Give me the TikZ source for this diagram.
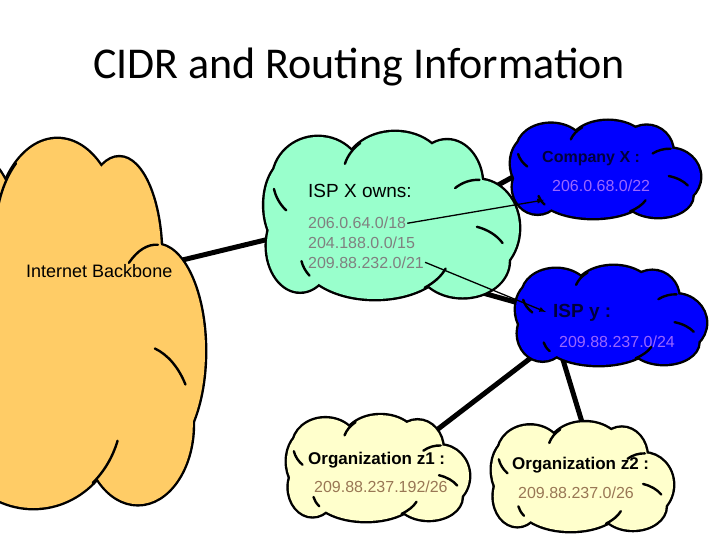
\documentclass[tikz,border=0pt]{standalone}
\usepackage{fontspec}
\setmainfont{Liberation Sans}
\newfontfamily\titlefont{Carlito}
\tikzset{>=latex}

\definecolor{backbone}{RGB}{255,204,102}
\definecolor{ispgreen}{RGB}{153,255,204}
\definecolor{netblue}{RGB}{0,0,255}
\definecolor{orgyellow}{RGB}{255,255,204}
\definecolor{numgray}{RGB}{128,128,128}
\definecolor{numviolet}{RGB}{153,102,255}
\definecolor{numbrown}{RGB}{153,119,85}
\definecolor{darknavy}{RGB}{0,0,60}

\tikzset{
  cloudline/.style={line width=2.4pt,line cap=round},
  link/.style={line width=5pt},
  pointer/.style={->,line width=1.3pt},
  cloudname/.style={anchor=base west,inner sep=1pt,font=\fontsize{18}{21}\selectfont},
  cloudnum/.style={anchor=base west,inner sep=1pt,font=\fontsize{16}{19}\selectfont},
}

% bumps of one cloud in a 100x100 box (y down): cx/cy/rx/ry
\def\cloudbumps{21.5/30.8/17.6/25, 51.6/27.9/20.3/25, 71.9/33.7/13.7/26,
  84/58.7/16/28, 78/78/18/21, 43.75/74.4/29/25.6, 14.5/69/13/26.7,
  10.5/45.3/10/26, 50/55/35/30}

% x0, y0, width, height, fill
\newcommand{\pptcloud}[5]{%
  \begin{scope}[shift={(#1,#2)},xscale=#3/100,yscale=#4/100]
    \foreach \cx/\cy/\rx/\ry in \cloudbumps
      \draw[line width=4.8pt,fill=#5] (\cx,\cy) ellipse[x radius=\rx,y radius=\ry];
    \foreach \cx/\cy/\rx/\ry in \cloudbumps
      \fill[#5] (\cx,\cy) ellipse[x radius=\rx,y radius=\ry];
    % inner strokes
    \draw[cloudline] (21.5,30.8) ++(135:17.6 and 25) arc[start angle=135,end angle=168,x radius=17.6,y radius=25];
    \draw[cloudline] (51.6,27.9) ++(195:20.3 and 25) arc[start angle=195,end angle=228,x radius=20.3,y radius=25];
    \draw[cloudline] (84,58.7) ++(236:16 and 28) arc[start angle=236,end angle=272,x radius=16,y radius=28];
    \draw[cloudline] (78,78) ++(-72:18 and 21) arc[start angle=-72,end angle=-30,x radius=18,y radius=21];
    \draw[cloudline] (43.75,74.4) ++(18:29 and 25.6) arc[start angle=18,end angle=48,x radius=29,y radius=25.6];
    \draw[cloudline] (43.75,74.4) ++(152:29 and 25.6) arc[start angle=152,end angle=172,x radius=29,y radius=25.6];
  \end{scope}}

\begin{document}
\begin{tikzpicture}[x=1pt,y=-1pt]
  \clip (0,0) rectangle (720,540);
  \fill[white] (0,0) rectangle (720,540);

  % link points
  \coordinate (bb-e) at (170,263);
  \coordinate (ispx-w) at (290,234);
  \coordinate (ispx-ne) at (480,195);
  \coordinate (compx-w) at (540,162);
  \coordinate (ispx-se) at (465,288);
  \coordinate (ispy-w) at (540,309);
  \coordinate (ispy-sw) at (545,347);
  \coordinate (z1-ne) at (425,439);
  \coordinate (ispy-s) at (560,350);
  \coordinate (z2-n) at (585,432);
  \draw[link] (bb-e) -- (ispx-w);
  \draw[link] (ispx-ne) -- (compx-w);
  \draw[link] (ispx-se) -- (ispy-w);
  \draw[link] (ispy-sw) -- (z1-ne);
  \draw[link] (ispy-s) -- (z2-n);

  % clouds
  \pptcloud{-100}{128}{305}{380}{backbone}
  \pptcloud{263}{127}{256}{172}{ispgreen}
  \pptcloud{510}{118}{190}{100}{netblue}
  \pptcloud{515}{263}{191}{102}{netblue}
  \pptcloud{286}{412}{183}{109}{orgyellow}
  \pptcloud{491}{419}{182}{112}{orgyellow}

  \node[font=\titlefont\fontsize{44}{50}\selectfont] (title) at (359,67) {CIDR and Routing Information};

  \node[cloudname] (bb-name) at (25,277) {Internet Backbone};

  \node[cloudname,font=\fontsize{19}{22}\selectfont] (ispx-name) at (307,197) {ISP X owns:};
  \node[cloudnum,text=numgray] (ispx-a) at (307,229) {206.0.64.0/18};
  \node[cloudnum,text=numgray] (ispx-b) at (307,248) {204.188.0.0/15};
  \node[cloudnum,text=numgray] (ispx-c) at (307,268) {209.88.232.0/21};

  \node[cloudname,font=\bfseries\fontsize{16}{19}\selectfont,text=darknavy] (compx-name) at (541,163) {Company X :};
  \node[cloudnum,text=numviolet] (compx-a) at (551,192) {206.0.68.0/22};

  \node[cloudname,font=\bfseries\fontsize{19}{22}\selectfont,text=darknavy] (ispy-name) at (552,317) {ISP y :};
  \node[cloudnum,text=numviolet] (ispy-a) at (558,347) {209.88.237.0/24};

  \node[cloudname,font=\bfseries\fontsize{17}{20}\selectfont] (z1-name) at (307,464) {Organization z1 :};
  \node[cloudnum,text=numbrown] (z1-a) at (313,492) {209.88.237.192/26};

  \node[cloudname,font=\bfseries\fontsize{17}{20}\selectfont] (z2-name) at (511,469) {Organization z2 :};
  \node[cloudnum,text=numbrown] (z2-a) at (517,498) {209.88.237.0/26};

  % routing pointers
  \coordinate (compx-tip) at (544,200);
  \coordinate (ispy-tip) at (546,312);
  \draw[pointer] (ispx-a.east) -- (compx-tip);
  \draw[pointer] (ispx-c.east) -- (ispy-tip);
\end{tikzpicture}
\end{document}
